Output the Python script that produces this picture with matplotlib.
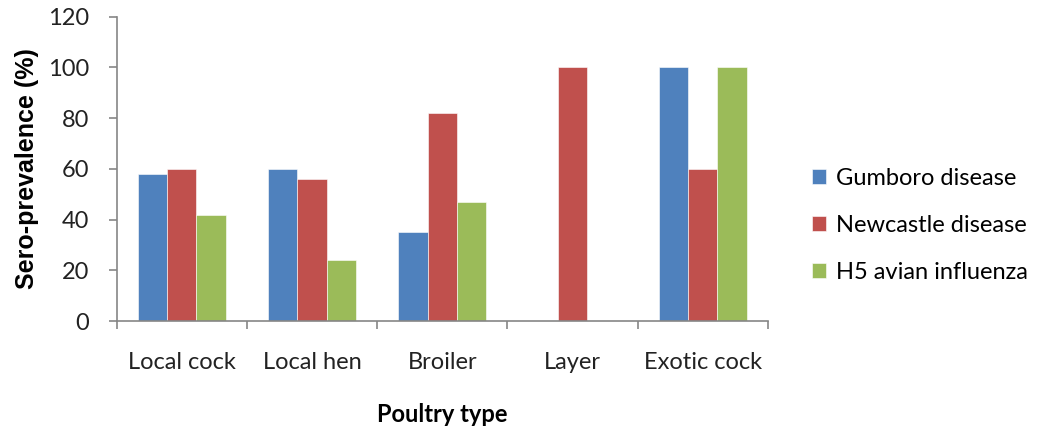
import numpy as np
import matplotlib
matplotlib.use("Agg")
from matplotlib import pyplot as plt

categories = ["Local cock", "Local hen", "Broiler", "Layer", "Exotic cock"]
gumboro = [58, 60, 35, 0, 100]
newcastle = [60, 56, 82, 100, 60]
h5_influenza = [42, 24, 47, 0, 100]
series = [
	(gumboro, "Gumboro disease", "#4F81BD"),
	(newcastle, "Newcastle disease", "#C0504D"),
	(h5_influenza, "H5 avian influenza", "#9BBB59"),
]

TEXTFONT = ["Lato", "DejaVu Sans"]
GRAY = "#868686"

fig = plt.figure(figsize=(10.6, 4.29), dpi=100)
ax = fig.add_axes([0.110, 0.2517, 0.6145, 0.7093])

x = np.arange(len(categories))
width = 0.225
for i, (vals, label, color) in enumerate(series):
	ax.bar(x + (i - 1) * width, vals, width, color=color, label=label,
		edgecolor="white", linewidth=0.4)

ax.set_xlim(-0.5, len(categories) - 0.5)
ax.set_ylim(0, 120)
ax.set_yticks(range(0, 121, 20))
ax.set_xticks(x)
ax.set_xticklabels(categories, fontsize=17, family=TEXTFONT, color="#222222")
ax.set_xticks(np.arange(-0.5, len(categories)), minor=True)
ax.tick_params(axis="x", which="major", length=0, pad=22)
ax.tick_params(axis="x", which="minor", length=6, color=GRAY, width=1.2)
ax.tick_params(axis="y", length=6, color=GRAY, width=1.2, pad=14)
for lbl in ax.get_yticklabels():
	lbl.set_fontsize(17)
	lbl.set_family(TEXTFONT)
	lbl.set_color("#222222")

for side in ("top", "right"):
	ax.spines[side].set_visible(False)
for side in ("left", "bottom"):
	ax.spines[side].set_color(GRAY)
	ax.spines[side].set_linewidth(1.2)

ax.set_ylabel("Sero-prevalence (%)", fontsize=18, fontweight="bold",
	family=["Liberation Sans", "DejaVu Sans"], labelpad=6)
ax.set_xlabel("Poultry type", fontsize=17, fontweight="bold", family=TEXTFONT,
	labelpad=22)

ax.legend(loc="center left", bbox_to_anchor=(1.035, 0.315), frameon=False,
	prop={"family": TEXTFONT, "size": 17}, handlelength=0.6, handleheight=0.6,
	handletextpad=0.4, labelspacing=1.1)

fig.savefig("out.png", dpi=100)
